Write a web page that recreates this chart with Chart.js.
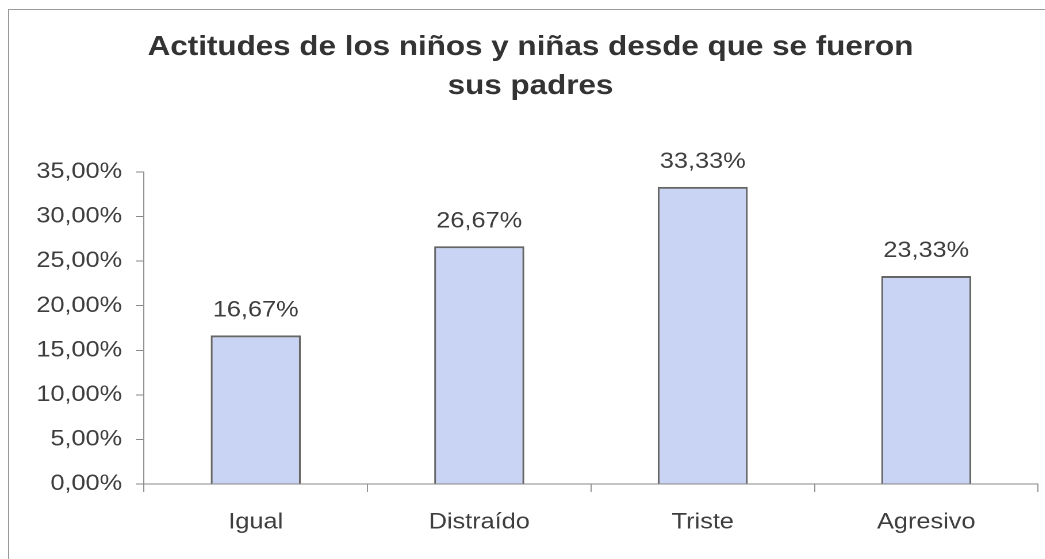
<!DOCTYPE html>
<html>
<head>
<meta charset="utf-8">
<script src="https://cdn.jsdelivr.net/npm/chart.js@4/dist/chart.umd.min.js"></script>
<style>
  html, body { margin: 0; padding: 0; background: #fff; overflow: hidden; }
  #frame { position: absolute; left: 8px; top: 9px; width: 1100px; height: 600px;
           border-left: 1px solid #9a9a9a; border-top: 1px solid #9a9a9a; }
  #wrap { position: absolute; left: 0; top: 0; width: 909px; height: 559px;
          transform: scaleX(1.15); transform-origin: 0 0; }
</style>
</head>
<body>
<div id="frame"></div>
<div id="wrap"><canvas id="c" width="909" height="559"></canvas></div>
<script>
const titleLines = ["Actitudes de los niños y niñas desde que se fueron", "sus padres"];
const categories = ["Igual", "Distraído", "Triste", "Agresivo"];
const values = [0.1667, 0.2667, 0.3333, 0.2333];
const yMin = 0, yMax = 0.35, yStep = 0.05;

const FONT = "'Liberation Sans', Arial, sans-serif";
const fmt = v => (v * 100).toFixed(2).replace('.', ',') + '%';

const dataLabels = {
  id: 'dataLabels',
  afterDatasetsDraw(chart) {
    const ctx = chart.ctx;
    const meta = chart.getDatasetMeta(0);
    ctx.save();
    ctx.font = '22px ' + FONT;
    ctx.fillStyle = '#3e3e3e';
    ctx.textAlign = 'center';
    ctx.textBaseline = 'alphabetic';
    meta.data.forEach((bar, i) => {
      ctx.fillText(fmt(values[i]), bar.x, bar.y - 19);
    });
    ctx.restore();
  }
};

new Chart(document.getElementById('c'), {
  type: 'bar',
  data: {
    labels: categories,
    datasets: [{
      data: values,
      backgroundColor: '#c9d3f4',
      borderColor: '#666',
      borderWidth: { top: 2, left: 1.7, right: 1.7, bottom: 0 },
      borderSkipped: 'bottom',
      barPercentage: 0.403,
      categoryPercentage: 1
    }]
  },
  options: {
    responsive: false,
    devicePixelRatio: 2,
    animation: false,
    events: [],
    layout: { padding: { left: 20, right: 6.4, top: 0, bottom: 6.6 } },
    plugins: {
      legend: { display: false },
      tooltip: { enabled: false },
      title: {
        display: true,
        text: titleLines,
        color: '#333',
        font: { family: FONT, size: 27.3, weight: 'bold', lineHeight: 1.4286 },
        padding: { top: 28, bottom: 66 }
      }
    },
    scales: {
      x: {
        grid: { display: true, offset: true, drawOnChartArea: false, drawTicks: true, tickLength: 8, color: '#888', lineWidth: 0.9 },
        border: { display: true, color: '#888', width: 1 },
        ticks: { color: '#3e3e3e', padding: 17, font: { family: FONT, size: 22 } }
      },
      y: {
        min: yMin, max: yMax,
        afterFit: s => { s.width = 105.2; },
        grid: { display: true, drawOnChartArea: false, drawTicks: true, tickLength: 7, color: '#888', lineWidth: 1 },
        border: { display: true, color: '#888', width: 0.9 },
        ticks: { stepSize: yStep, color: '#3e3e3e', padding: 12, font: { family: FONT, size: 22 },
                 callback: v => fmt(v) }
      }
    }
  },
  plugins: [dataLabels]
});
</script>
</body>
</html>
